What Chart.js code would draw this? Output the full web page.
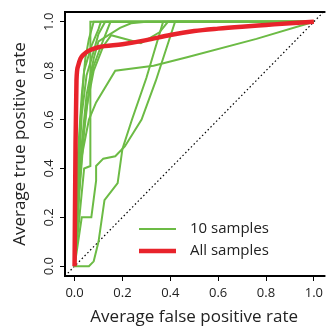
<!DOCTYPE html>
<html>
<head>
<meta charset="utf-8">
<script src="https://cdn.jsdelivr.net/npm/chart.js@4"></script>
<style>
  html, body { margin: 0; padding: 0; background: #fff; }
  canvas { display: block; }
</style>
</head>
<body>
<canvas id="chart" width="327" height="327"></canvas>
<script>
// tick labels
const tickValues = [0, 0.2, 0.4, 0.6, 0.8, 1.0];

// ROC curves, [false positive rate, true positive rate]
const sample1 = [[0,0],[0.02,0.2],[0.04,0.4],[0.066,0.41],[0.066,1],[1,1]];
const sample2 = [[0,0],[0.01,0.3],[0.025,0.6],[0.04,0.8],[0.07,0.9],[0.1,0.97],[0.11,1],[1,1]];
const sample3 = [[0,0],[0.015,0.35],[0.03,0.62],[0.05,0.78],[0.08,0.88],[0.1,0.95],[0.128,1],[1,1]];
const sample4 = [[0,0],[0.02,0.3],[0.04,0.55],[0.06,0.72],[0.08,0.82],[0.11,0.9],[0.15,1],[1,1]];
const sample5 = [[0,0],[0.01,0.2],[0.03,0.45],[0.06,0.6],[0.09,0.67],[0.17,0.8],[0.33,0.82],[0.47,0.855],[0.76,0.93],[1,1]];
const sample6 = [[0,0],[0.06,0],[0.08,0.02],[0.1,0.1],[0.125,0.27],[0.18,0.34],[0.2,0.48],[0.24,0.6],[0.3,0.77],[0.37,1],[1,1]];
const sample7 = [[0,0],[0.03,0.2],[0.07,0.2],[0.09,0.35],[0.09,0.41],[0.12,0.44],[0.17,0.45],[0.21,0.49],[0.28,0.6],[0.34,0.76],[0.42,1],[1,1]];
const sample8 = [[0,0],[0.02,0.4],[0.05,0.65],[0.08,0.8],[0.12,0.9],[0.153,0.945],[0.277,0.912],[0.355,0.957],[0.39,1],[1,1]];
const sample9 = [[0,0],[0.03,0.5],[0.05,0.7],[0.08,0.85],[0.1,0.92],[0.19,0.975],[0.236,0.994],[0.3,1],[1,1]];
const sample10 = [[0,0],[0.01,0.4],[0.03,0.7],[0.045,0.85],[0.06,0.93],[0.08,1],[1,1]];
const allSamples = [[0,0],[0.004,0.5],[0.008,0.76],[0.015,0.82],[0.025,0.85],[0.04,0.868],[0.06,0.882],[0.1,0.896],[0.2,0.908],[0.3,0.925],[0.4,0.946],[0.5,0.962],[0.6,0.972],[0.7,0.98],[0.8,0.987],[0.9,0.994],[1,1]];
const chance = [[-0.04,-0.04],[1.04,1.04]];

const sampleList = [sample1, sample2, sample3, sample4, sample5, sample6, sample7, sample8, sample9, sample10];

const green = '#6cbb45';
const red = '#e8232b';
const font = "'Open Sans', 'DejaVu Sans', sans-serif";

const toPts = (arr) => arr.map((p) => ({ x: p[0], y: p[1] }));

const datasets = [];
sampleList.forEach((s, i) => {
    datasets.push({
        label: i == 0 ? '10 samples' : '',
        data: toPts(s),
        showLine: true,
        borderColor: green,
        borderWidth: 2,
        pointRadius: 0,
        tension: 0,
    });
});
datasets.push({
    label: 'All samples',
    data: toPts(allSamples),
    showLine: true,
    borderColor: red,
    borderWidth: 4.5,
    pointRadius: 0,
    cubicInterpolationMode: 'monotone',
    order: -1,
});
datasets.push({
    label: '',
    data: toPts(chance),
    showLine: true,
    borderColor: '#000',
    borderWidth: 1.2,
    borderDash: [1.5, 2.5],
    pointRadius: 0,
    order: 5,
});

// frame on left, top and bottom, plus legend in lower right
const framePlugin = {
    id: 'frame',
    afterDraw(chart) {
        const c = chart.ctx;
        const a = chart.chartArea;
        c.save();
        c.strokeStyle = '#000';
        c.lineWidth = 2;
        c.beginPath();
        c.moveTo(a.right + 2, a.top);
        c.lineTo(a.left, a.top);
        c.lineTo(a.left, a.bottom);
        c.lineTo(a.right + 2, a.bottom);
        c.stroke();

        const items = [
            { text: '10 samples', color: green, w: 2, y: 229 },
            { text: 'All samples', color: red, w: 4.5, y: 251 },
        ];
        c.font = '15px ' + font;
        c.textBaseline = 'middle';
        items.forEach((it) => {
            c.strokeStyle = it.color;
            c.lineWidth = it.w;
            c.beginPath();
            c.moveTo(139, it.y);
            c.lineTo(176, it.y);
            c.stroke();
            c.fillStyle = '#222';
            c.fillText(it.text, 190, it.y);
        });
        c.restore();
    },
};

const setTicks = (axis) => {
    axis.ticks = tickValues.map((v) => ({ value: v }));
};

new Chart(document.getElementById('chart'), {
    type: 'scatter',
    data: { datasets: datasets },
    options: {
        responsive: false,
        animation: false,
        layout: { padding: { top: 12, right: 0, left: 0, bottom: 0 } },
        plugins: {
            legend: { display: false },
            tooltip: { enabled: false },
        },
        scales: {
            x: {
                type: 'linear',
                min: -0.04,
                max: 1.04,
                afterBuildTicks: setTicks,
                afterFit: (s) => { s.height = 51; },
                border: { display: false },
                grid: { drawOnChartArea: false, drawTicks: true, tickLength: 5, tickColor: '#000', tickWidth: 1 },
                ticks: {
                    color: '#222',
                    font: { family: font, size: 13 },
                    padding: 4,
                    maxRotation: 0,
                    callback: (v) => v.toFixed(1),
                },
                title: {
                    display: true,
                    text: 'Average false positive rate',
                    color: '#222',
                    font: { family: font, size: 17 },
                    padding: 0,
                },
            },
            y: {
                type: 'linear',
                min: -0.04,
                max: 1.04,
                afterBuildTicks: setTicks,
                afterFit: (s) => { s.width = 65; },
                border: { display: false },
                grid: { drawOnChartArea: false, drawTicks: true, tickLength: 5, tickColor: '#000', tickWidth: 1 },
                ticks: {
                    color: '#222',
                    font: { family: font, size: 13 },
                    padding: 2,
                    minRotation: 90,
                    maxRotation: 90,
                    crossAlign: 'center',
                    callback: (v) => v.toFixed(1),
                },
                title: {
                    display: true,
                    text: 'Average true positive rate',
                    color: '#222',
                    font: { family: font, size: 17 },
                    padding: { top: 10, bottom: 0 },
                },
            },
        },
    },
    plugins: [framePlugin],
});
</script>
</body>
</html>
